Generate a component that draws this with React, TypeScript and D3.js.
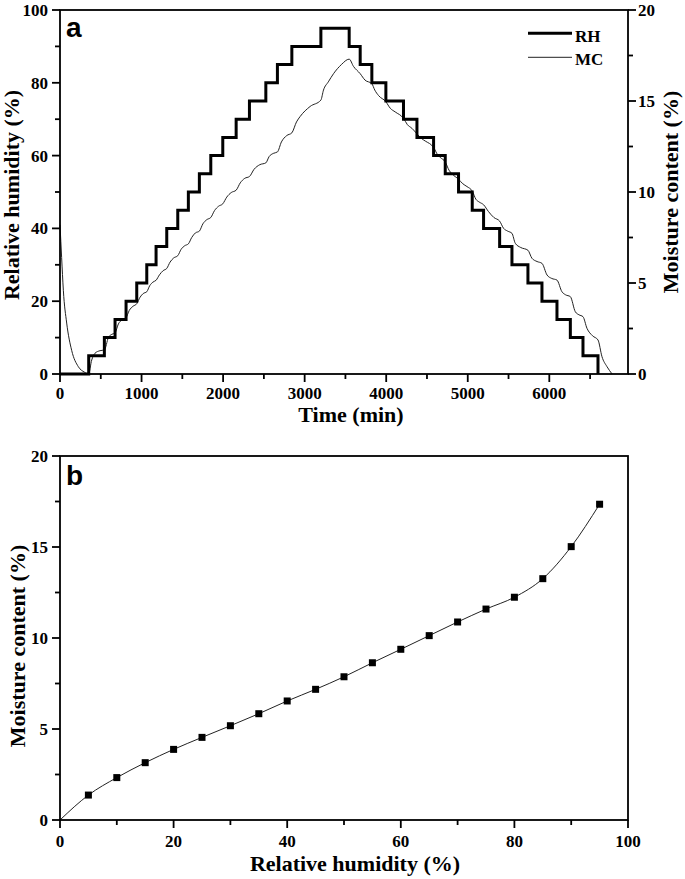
import React from "react";
import * as d3 from "d3";

// ---------- Panel a data ----------
// RH set-point steps: time (min) at which the RH level starts
const rhTimes = [0, 352, 544, 675, 810, 941, 1064, 1178, 1309, 1444, 1574, 1709, 1849, 1996, 2160, 2323, 2524, 2666, 2843, 3199,
  3546, 3681, 3824, 3996, 4212, 4377, 4581, 4724, 4887, 5055, 5194, 5391, 5542, 5738, 5910, 6094, 6258, 6413, 6597];
const rhLevels = [0, 5, 10, 15, 20, 25, 30, 35, 40, 45, 50, 55, 60, 65, 70, 75, 80, 85, 90, 95,
  90, 85, 80, 75, 70, 65, 60, 55, 50, 45, 40, 35, 30, 25, 20, 15, 10, 5, 0];

// Moisture content (%)
const mcTimes = [0, 20, 41, 82, 143, 225, 300, 350,
  389, 429, 490, 544,
  593, 635, 675,
  716, 760, 810,
  850, 895, 941,
  982, 1020, 1064,
  1100, 1140, 1178,
  1220, 1265, 1309,
  1350, 1395, 1444,
  1485, 1530, 1574,
  1615, 1660, 1709,
  1752, 1800, 1849,
  1895, 1945, 1996,
  2045, 2100, 2160,
  2210, 2265, 2323,
  2380, 2450, 2524,
  2565, 2615, 2666,
  2715, 2780, 2843,
  2900, 2945, 3067, 3199,
  3231, 3290, 3354, 3450, 3546,
  3599, 3681,
  3740, 3824,
  3860, 3906, 3996,
  4050, 4110, 4212,
  4260, 4315, 4377,
  4430, 4479, 4581,
  4630, 4663, 4724,
  4770, 4806, 4887,
  4940, 4990, 5055,
  5100, 5140, 5194,
  5255, 5320, 5391,
  5440, 5490, 5542,
  5583, 5650, 5738,
  5787, 5850, 5910,
  5972, 6030, 6094,
  6155, 6200, 6258,
  6319, 6365, 6413,
  6462, 6530, 6597,
  6646, 6708, 6770];
const mcValues = [8.2, 6.4, 4.6, 2.8, 1.3, 0.4, 0.1, 0.0,
  0.77, 1.14, 1.28, 1.32,
  2.0, 2.18, 2.26,
  2.75, 2.98, 3.1,
  3.5, 3.72, 3.86,
  4.22, 4.42, 4.52,
  4.85, 5.05, 5.15,
  5.45, 5.68, 5.8,
  6.15, 6.38, 6.5,
  6.85, 7.05, 7.15,
  7.5, 7.75, 7.85,
  8.25, 8.48, 8.6,
  8.98, 9.22, 9.35,
  9.72, 9.97, 10.1,
  10.5, 10.75, 10.85,
  11.25, 11.5, 11.6,
  11.95, 12.12, 12.2,
  12.75, 13.1, 13.25,
  13.85, 14.15, 14.7, 15.05,
  15.6, 16.05, 16.5, 17.0, 17.3,
  16.9, 16.5,
  16.15, 15.95,
  15.6, 15.3, 14.96,
  14.6, 14.4, 14.05,
  13.7, 13.5, 13.2,
  12.95, 12.8, 12.45,
  12.05, 11.9, 11.65,
  11.2, 11.0, 10.7,
  10.45, 10.3, 10.05,
  9.6, 9.45, 9.3,
  8.92, 8.6, 8.4,
  8.0, 7.85, 7.73,
  7.18, 6.95, 6.8,
  6.36, 6.18, 6.08,
  5.44, 5.25, 5.16,
  4.52, 4.35, 4.25,
  3.42, 3.25, 3.15,
  2.51, 2.1, 1.87,
  0.95, 0.4, 0.0];

const aXTicks = [0, 1000, 2000, 3000, 4000, 5000, 6000];
const aXMinor = [500, 1500, 2500, 3500, 4500, 5500, 6500];
const aYTicks = [0, 20, 40, 60, 80, 100];
const aYMinor = [10, 30, 50, 70, 90];
const aY2Ticks = [0, 5, 10, 15, 20];
const aY2Minor = [2.5, 7.5, 12.5, 17.5];

// ---------- Panel b data ----------
const isoRH = [0, 5, 10, 15, 20, 25, 30, 35, 40, 45, 50, 55, 60, 65, 70, 75, 80, 85, 90, 95];
const isoMC = [0, 1.37, 2.33, 3.15, 3.88, 4.54, 5.18, 5.84, 6.54, 7.18, 7.87, 8.64, 9.38, 10.13, 10.88, 11.59, 12.24, 13.26, 15.02, 17.35];
const bXTicks = [0, 20, 40, 60, 80, 100];
const bXMinor = [10, 30, 50, 70, 90];
const bYTicks = [0, 5, 10, 15, 20];
const bYMinor = [2.5, 7.5, 12.5, 17.5];

const SERIF = "'Liberation Serif', 'Times New Roman', serif";
const SANS = "'Liberation Sans', Arial, sans-serif";
const TICK_FS = 17;
const TITLE_FS = 22;

export default function App() {
  // Panel a geometry
  const A = { l: 60, r: 628, t: 10, b: 374 };
  const ax = d3.scaleLinear().domain([0, 6965]).range([A.l, A.r]);
  const ay = d3.scaleLinear().domain([0, 100]).range([A.b, A.t]);
  const ay2 = d3.scaleLinear().domain([0, 20]).range([A.b, A.t]);

  const rhPts = rhTimes.map((t, i) => [t, rhLevels[i]] as [number, number]);
  const rhPath = d3.line<[number, number]>().x(d => ax(d[0])).y(d => ay(d[1])).curve(d3.curveStepAfter)(rhPts) || "";
  const mcPts = mcTimes.map((t, i) => [t, mcValues[i]] as [number, number]);
  const mcPath = d3.line<[number, number]>().x(d => ax(d[0])).y(d => ay2(d[1])).curve(d3.curveMonotoneX)(mcPts) || "";

  // Panel b geometry
  const B = { l: 60, r: 628, t: 456, b: 820 };
  const bx = d3.scaleLinear().domain([0, 100]).range([B.l, B.r]);
  const by = d3.scaleLinear().domain([0, 20]).range([B.b, B.t]);
  const isoPts = isoRH.map((r, i) => [r, isoMC[i]] as [number, number]);
  const isoPath = d3.line<[number, number]>().x(d => bx(d[0])).y(d => by(d[1])).curve(d3.curveMonotoneX)(isoPts) || "";

  const MAJ = 8, MIN = 5, AW = 1.8;

  return (
    <svg width={685} height={879} style={{ position: "absolute", left: 0, top: 0, background: "#fff" }}
      fontFamily={SERIF} fontWeight="bold">
      <rect x={0} y={0} width={685} height={879} fill="#fff" />
      {/* ===== Panel a ===== */}
      <path d={mcPath} fill="none" stroke="#222" strokeWidth={1} />
      <path d={rhPath} fill="none" stroke="#000" strokeWidth={3} strokeLinejoin="miter" />
      <rect x={A.l} y={A.t} width={A.r - A.l} height={A.b - A.t} fill="none" stroke="#000" strokeWidth={AW} />
      {aXTicks.map(v => (
        <g key={"ax" + v}>
          <line x1={ax(v)} x2={ax(v)} y1={A.b} y2={A.b + MAJ} stroke="#000" strokeWidth={AW} />
          <text x={ax(v)} y={A.b + 24.5} textAnchor="middle" fontSize={TICK_FS}>{v}</text>
        </g>
      ))}
      {aXMinor.map(v => (
        <line key={"axm" + v} x1={ax(v)} x2={ax(v)} y1={A.b} y2={A.b + MIN} stroke="#000" strokeWidth={AW} />
      ))}
      {aYTicks.map(v => (
        <g key={"ay" + v}>
          <line x1={A.l - MAJ} x2={A.l} y1={ay(v)} y2={ay(v)} stroke="#000" strokeWidth={AW} />
          <text x={A.l - 12} y={ay(v) + 6} textAnchor="end" fontSize={TICK_FS}>{v}</text>
        </g>
      ))}
      {aYMinor.map(v => (
        <line key={"aym" + v} x1={A.l - MIN} x2={A.l} y1={ay(v)} y2={ay(v)} stroke="#000" strokeWidth={AW} />
      ))}
      {aY2Ticks.map(v => (
        <g key={"ay2" + v}>
          <line x1={A.r} x2={A.r + MAJ} y1={ay2(v)} y2={ay2(v)} stroke="#000" strokeWidth={AW} />
          <text x={A.r + 10} y={ay2(v) + 6} textAnchor="start" fontSize={TICK_FS}>{v}</text>
        </g>
      ))}
      {aY2Minor.map(v => (
        <line key={"ay2m" + v} x1={A.r} x2={A.r + MIN} y1={ay2(v)} y2={ay2(v)} stroke="#000" strokeWidth={AW} />
      ))}
      <text x={351} y={422} textAnchor="middle" fontSize={TITLE_FS}>Time (min)</text>
      <text transform={`translate(18.5,${(A.t + A.b) / 2 + 3}) rotate(-90)`} textAnchor="middle" fontSize={TITLE_FS}>Relative humidity (%)</text>
      <text transform={`translate(678,${(A.t + A.b) / 2}) rotate(-90)`} textAnchor="middle" fontSize={TITLE_FS}>Moisture content (%)</text>
      <text x={66} y={37} fontFamily={SANS} fontSize={28} fontWeight="bold">a</text>
      {/* legend */}
      <line x1={528} x2={572} y1={33.3} y2={33.3} stroke="#000" strokeWidth={3} />
      <text x={575} y={41.5} fontSize={17}>RH</text>
      <line x1={528} x2={572} y1={57.3} y2={57.3} stroke="#222" strokeWidth={1} />
      <text x={575} y={65} fontSize={17}>MC</text>

      {/* ===== Panel b ===== */}
      <path d={isoPath} fill="none" stroke="#222" strokeWidth={1} />
      {isoPts.slice(1).map(d => (
        <rect key={"m" + d[0]} x={bx(d[0]) - 3.5} y={by(d[1]) - 3.5} width={7} height={7} fill="#000" />
      ))}
      <rect x={B.l} y={B.t} width={B.r - B.l} height={B.b - B.t} fill="none" stroke="#000" strokeWidth={AW} />
      {bXTicks.map(v => (
        <g key={"bx" + v}>
          <line x1={bx(v)} x2={bx(v)} y1={B.b} y2={B.b + MAJ} stroke="#000" strokeWidth={AW} />
          <text x={bx(v)} y={B.b + 27} textAnchor="middle" fontSize={TICK_FS}>{v}</text>
        </g>
      ))}
      {bXMinor.map(v => (
        <line key={"bxm" + v} x1={bx(v)} x2={bx(v)} y1={B.b} y2={B.b + MIN} stroke="#000" strokeWidth={AW} />
      ))}
      {bYTicks.map(v => (
        <g key={"by" + v}>
          <line x1={B.l - MAJ} x2={B.l} y1={by(v)} y2={by(v)} stroke="#000" strokeWidth={AW} />
          <text x={B.l - 12} y={by(v) + 6} textAnchor="end" fontSize={TICK_FS}>{v}</text>
        </g>
      ))}
      {bYMinor.map(v => (
        <line key={"bym" + v} x1={B.l - MIN} x2={B.l} y1={by(v)} y2={by(v)} stroke="#000" strokeWidth={AW} />
      ))}
      <text x={355} y={871} textAnchor="middle" fontSize={TITLE_FS}>Relative humidity (%)</text>
      <text transform={`translate(25,${(B.t + B.b) / 2 + 8}) rotate(-90)`} textAnchor="middle" fontSize={TITLE_FS}>Moisture content (%)</text>
      <text x={66} y={485} fontFamily={SANS} fontSize={28} fontWeight="bold">b</text>
    </svg>
  );
}
